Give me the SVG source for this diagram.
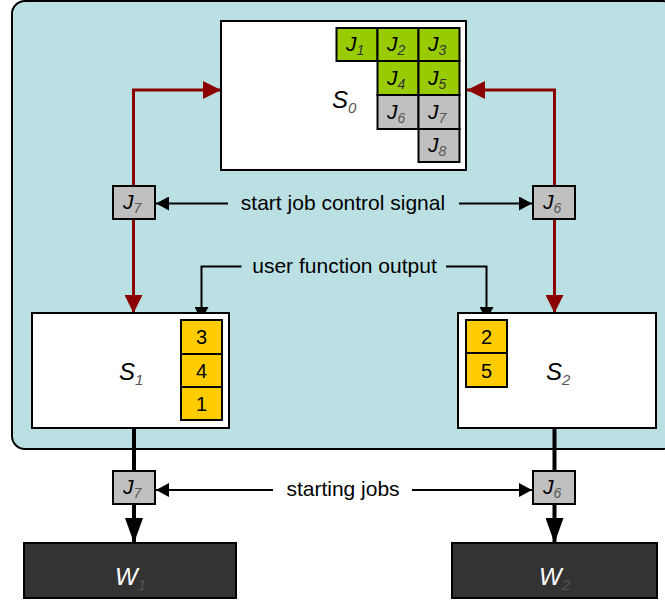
<svg xmlns="http://www.w3.org/2000/svg" width="665" height="600" viewBox="0 0 665 600">
<defs>
<style>
.lbl{font-family:"Liberation Sans",Arial,sans-serif;fill:#000}
.cap{font-size:21px}
.jt{font-size:21px;font-style:italic}
.js{font-size:14px;font-style:italic;fill:#333}
.jsg{font-size:14px;font-style:italic;fill:#555}
.big{font-size:24px;font-style:italic}
.bigs{font-size:15px;font-style:italic;fill:#555}
.num{font-size:20px;text-anchor:middle}
.green{fill:#99cc00;stroke:#000;stroke-width:2}
.gray{fill:#c0c0c0;stroke:#000;stroke-width:2}
.orange{fill:#ffcc00;stroke:#000;stroke-width:2}
.box{fill:#fff;stroke:#000;stroke-width:2}
.wbox{fill:#333;stroke:#000;stroke-width:2}
.red{fill:none;stroke:#8b0000;stroke-width:3;marker-end:url(#ar)}
.blk{fill:none;stroke:#000;stroke-width:2;marker-end:url(#ab)}
.thick{fill:none;stroke:#000;stroke-width:4}
.thicka{fill:none;stroke:#000;stroke-width:4;marker-end:url(#abig)}
</style>
<marker id="ar" markerUnits="userSpaceOnUse" markerWidth="18" markerHeight="18" refX="18" refY="9" orient="auto">
<path d="M0,0 L18,9 L0,18 z" fill="#8b0000"/>
</marker>
<marker id="ab" markerUnits="userSpaceOnUse" markerWidth="13" markerHeight="14" refX="13" refY="7" orient="auto">
<path d="M0,0 L13,7 L0,14 z" fill="#000"/>
</marker>
<marker id="abig" markerUnits="userSpaceOnUse" markerWidth="25" markerHeight="18" refX="25" refY="9" orient="auto">
<path d="M0,0 L25,9 L0,18 z" fill="#000"/>
</marker>
</defs>
<rect width="665" height="600" fill="#fff"/>
<rect id="panel" x="12" y="1" width="664" height="448" rx="13" ry="13" fill="#bbe0e3" stroke="#000" stroke-width="2"/>

<g id="connectors">
<path class="red" d="M133.5,186 V90 H221"/>
<path class="red" d="M133.5,219 V313"/>
<path class="red" d="M554.5,186 V90 H467"/>
<path class="red" d="M554.5,219 V313"/>
<path class="blk" d="M228,203.5 H156"/>
<path class="blk" d="M459,203.5 H532"/>
<path class="blk" d="M241.5,266.5 H201.5 V320"/>
<path class="blk" d="M446,266.5 H486.5 V320"/>
<path class="blk" d="M273,490 H156"/>
<path class="blk" d="M412,490 H532"/>
<path class="thick" d="M134,428 V471"/>
<path class="thicka" d="M134,504 V543"/>
<path class="thick" d="M554.5,428 V471"/>
<path class="thicka" d="M554.5,504 V543"/>
<text class="lbl cap" x="343" y="210" text-anchor="middle">start job control signal</text>
<text class="lbl cap" x="344.5" y="273" text-anchor="middle">user function output</text>
<text class="lbl cap" x="343" y="496" text-anchor="middle">starting jobs</text>
</g>

<g id="S0">
<rect class="box" x="221" y="21" width="245" height="149"/>
<text class="lbl" x="332" y="108"><tspan class="big">S</tspan><tspan class="bigs" dy="5">0</tspan></text>
<rect class="green" x="336.5" y="28" width="41" height="33"/>
<rect class="green" x="377.5" y="28" width="41" height="33"/>
<rect class="green" x="418.5" y="28" width="41" height="33"/>
<rect class="green" x="377.5" y="61" width="41" height="34"/>
<rect class="green" x="418.5" y="61" width="41" height="34"/>
<rect class="gray" x="377.5" y="95" width="41" height="34"/>
<rect class="gray" x="418.5" y="95" width="41" height="34"/>
<rect class="gray" x="418.5" y="129" width="41" height="33"/>
<text class="lbl" x="346" y="51"><tspan class="jt">J</tspan><tspan class="js" dy="4">1</tspan></text>
<text class="lbl" x="387" y="51"><tspan class="jt">J</tspan><tspan class="js" dy="4">2</tspan></text>
<text class="lbl" x="428" y="51"><tspan class="jt">J</tspan><tspan class="js" dy="4">3</tspan></text>
<text class="lbl" x="387" y="85"><tspan class="jt">J</tspan><tspan class="js" dy="4">4</tspan></text>
<text class="lbl" x="428" y="85"><tspan class="jt">J</tspan><tspan class="js" dy="4">5</tspan></text>
<text class="lbl" x="387" y="119"><tspan class="jt">J</tspan><tspan class="jsg" dy="4">6</tspan></text>
<text class="lbl" x="428" y="119"><tspan class="jt">J</tspan><tspan class="jsg" dy="4">7</tspan></text>
<text class="lbl" x="428" y="152"><tspan class="jt">J</tspan><tspan class="jsg" dy="4">8</tspan></text>
</g>

<g id="J7top">
<rect class="gray" x="113" y="186" width="42" height="33"/>
<text class="lbl" x="123" y="209"><tspan class="jt">J</tspan><tspan class="jsg" dy="4">7</tspan></text>
</g>
<g id="J6top">
<rect class="gray" x="533" y="186" width="42" height="33"/>
<text class="lbl" x="543" y="209"><tspan class="jt">J</tspan><tspan class="jsg" dy="4">6</tspan></text>
</g>

<g id="S1">
<rect class="box" x="32" y="313" width="197" height="115"/>
<text class="lbl" x="119" y="380"><tspan class="big">S</tspan><tspan class="bigs" dy="5">1</tspan></text>
<rect class="orange" x="181" y="320" width="41" height="34"/>
<rect class="orange" x="181" y="354" width="41" height="33"/>
<rect class="orange" x="181" y="387" width="41" height="33"/>
<text class="lbl num" x="201.5" y="344">3</text>
<text class="lbl num" x="201.5" y="378">4</text>
<text class="lbl num" x="201.5" y="411">1</text>
</g>

<g id="S2">
<rect class="box" x="458" y="313" width="198" height="115"/>
<text class="lbl" x="546" y="380"><tspan class="big">S</tspan><tspan class="bigs" dy="5">2</tspan></text>
<rect class="orange" x="466" y="320" width="41" height="33"/>
<rect class="orange" x="466" y="353" width="41" height="34"/>
<text class="lbl num" x="486.5" y="344">2</text>
<text class="lbl num" x="486.5" y="378">5</text>
</g>

<g id="J7bottom">
<rect class="gray" x="113" y="471" width="42" height="33"/>
<text class="lbl" x="123" y="494"><tspan class="jt">J</tspan><tspan class="jsg" dy="4">7</tspan></text>
</g>
<g id="J6bottom">
<rect class="gray" x="533" y="471" width="42" height="33"/>
<text class="lbl" x="543" y="494"><tspan class="jt">J</tspan><tspan class="jsg" dy="4">6</tspan></text>
</g>

<g id="W1">
<rect class="wbox" x="24" y="543" width="212" height="55"/>
<text class="lbl" x="115" y="585"><tspan class="big" fill="#fff">W</tspan><tspan class="bigs" dy="5" fill="#aaa">1</tspan></text>
</g>
<g id="W2">
<rect class="wbox" x="452" y="543" width="205" height="55"/>
<text class="lbl" x="539" y="585"><tspan class="big" fill="#fff">W</tspan><tspan class="bigs" dy="5" fill="#aaa">2</tspan></text>
</g>
</svg>
